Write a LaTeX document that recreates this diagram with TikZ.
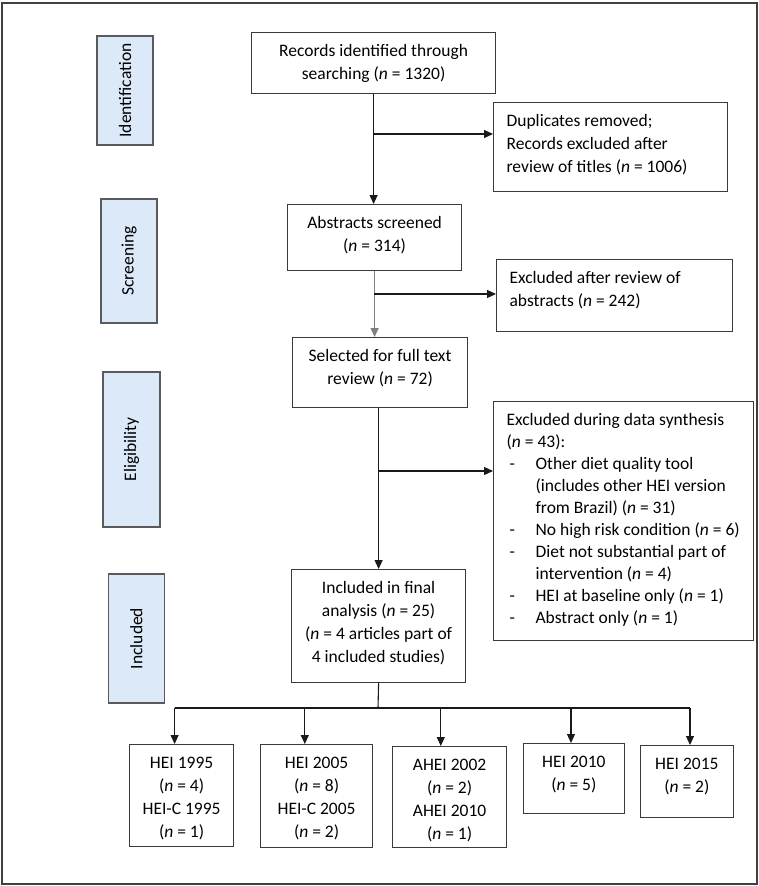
\documentclass[tikz,border=0pt]{standalone}
\usepackage{fontspec}
\setmainfont{Carlito}
\usetikzlibrary{arrows.meta,calc}
\definecolor{sideblue}{HTML}{DCE9F8}
\definecolor{boxline}{HTML}{3A3A3A}
\definecolor{sideline}{HTML}{5A5A5A}
\newcommand{\nn}{\textit{n}}
\newlength{\toppad}\setlength{\toppad}{8pt}
\newcommand{\cbox}[3]{\parbox[c][#2][t]{#1}{\centering\vspace*{\toppad}\strut #3}}
\newcommand{\lbox}[3]{\parbox[c][#2][t]{#1}{\raggedright\leftskip=13pt\vspace*{\toppad}\strut #3}}
\newcommand{\dashitem}{\makebox[29pt][l]{\hspace{3pt}-}}
\newcommand{\cont}{\hspace*{29pt}}
\begin{document}
\begin{tikzpicture}[x=1pt,y=-1pt,
  every node/.style={font=\fontsize{17.5}{23}\selectfont},
  box/.style={draw=boxline,line width=1.2pt,inner sep=0pt,anchor=north west},
  side/.style={draw=sideline,fill=sideblue,line width=1.2pt,inner sep=0pt,rotate=90},
  ln/.style={draw=black!90,line width=1.1pt},
  arr/.style={ln,-{Triangle[length=9pt,width=8pt]}}]
\useasboundingbox (0,0) rectangle (759,886);
\draw[draw=black!75,line width=2pt] (1.5,3) rectangle (756.5,884);

% side labels
\node[side,minimum width=109pt,minimum height=56pt] (lid) at (125,90.5) {Identification};
\node[side,minimum width=124pt,minimum height=56pt] (lsc) at (129,261) {Screening};
\node[side,minimum width=155pt,minimum height=57pt] (lel) at (131.5,449.5) {Eligibility};
\node[side,minimum width=129pt,minimum height=56pt] (lin) at (136.3,638.5) {Included};

% main boxes
\node[box] (rec) at (251,32) {\cbox{244pt}{61pt}{Records identified through\\searching (\nn{} = 1320)}};
\node[box] (dup) at (493,102) {\lbox{234pt}{89pt}{Duplicates removed;\\Records excluded after\\review of titles (\nn{} = 1006)}};
\node[box] (abs) at (287,204) {\cbox{174pt}{66pt}{Abstracts screened\\(\nn{} = 314)}};
\node[box] (exc1) at (496,259) {\lbox{236pt}{72pt}{Excluded after review of\\abstracts (\nn{} = 242)}};
\node[box] (sel) at (292,337) {\cbox{175pt}{70pt}{Selected for full text\\review (\nn{} = 72)}};
\node[box] (exc2) at (493,401) {\lbox{260pt}{239pt}{\fontsize{17.5}{22}\selectfont\strut Excluded during data synthesis\\
(\nn{} = 43):\\
\dashitem Other diet quality tool\\
\cont (includes other HEI version\\
\cont from Brazil) (\nn{} = 31)\\
\dashitem No high risk condition (\nn{} = 6)\\
\dashitem Diet not substantial part of\\
\cont intervention (\nn{} = 4)\\
\dashitem HEI at baseline only (\nn{} = 1)\\
\dashitem Abstract only (\nn{} = 1)}};
\node[box] (inc) at (291,569) {\cbox{174pt}{113pt}{Included in final\\analysis (\nn{} = 25)\\(\nn{} = 4 articles part of\\4 included studies)}};

% bottom boxes
\node[box] (b1) at (129,744) {\cbox{104pt}{102pt}{HEI 1995\\(\nn{} = 4)\\HEI-C 1995\\(\nn{} = 1)}};
\node[box] (b2) at (260,744) {\cbox{112pt}{103pt}{HEI 2005\\(\nn{} = 8)\\HEI-C 2005\\(\nn{} = 2)}};
\node[box] (b3) at (392,746) {\cbox{114pt}{101pt}{AHEI 2002\\(\nn{} = 2)\\AHEI 2010\\(\nn{} = 1)}};
\node[box] (b4) at (522.5,743) {\cbox{101.5pt}{70pt}{HEI 2010\\(\nn{} = 5)}};
\node[box] (b5) at (639.5,745) {\cbox{93.5pt}{72pt}{HEI 2015\\(\nn{} = 2)}};

% connectors
\coordinate (j1) at (373,134);
\coordinate (j2) at (374,294);
\coordinate (j3) at (378,471);
\draw[arr] (rec.south) -- (rec.south |- abs.north);
\draw[arr] (j1) -- (j1 -| dup.west);
\draw[arr,draw=gray] (abs.south) -- (abs.south |- sel.north);
\draw[arr] (j2) -- (j2 -| exc1.west);
\draw[arr] (sel.south -| inc.north) -- (inc.north);
\draw[arr] (j3) -- (j3 -| exc2.west);

\coordinate (bar) at (378,708);
\coordinate (t1) at (174.6,708);
\coordinate (t2) at (304.8,708);
\coordinate (t3) at (440.8,708);
\coordinate (t4) at (571,708);
\coordinate (t5) at (690,708);
\draw[ln] (inc.south) -- (bar);
\draw[ln] (t1) -- (t5);
\foreach \i in {1,...,5} \draw[arr] (t\i) -- (t\i |- b\i.north);
\end{tikzpicture}
\end{document}
